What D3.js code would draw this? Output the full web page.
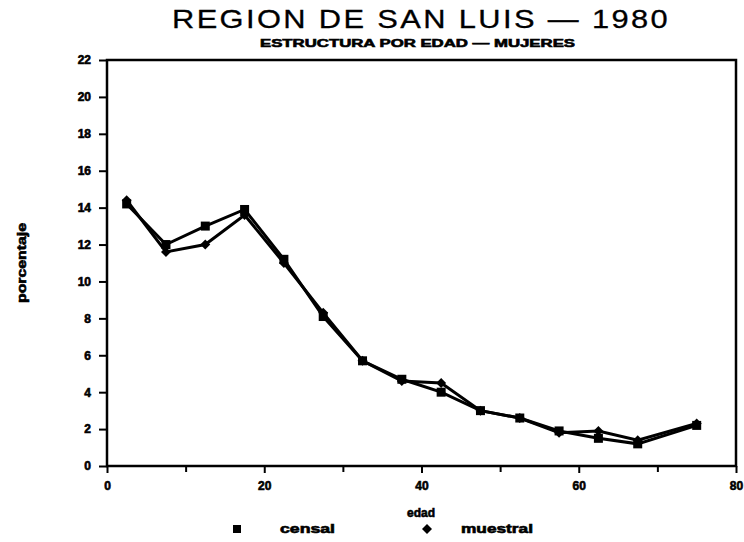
<!DOCTYPE html>
<html>
<head>
<meta charset="utf-8">
<script src="https://cdn.jsdelivr.net/npm/d3@7"></script>
<style>
  body { margin: 0; background: #fff; }
  svg { font-family: "Liberation Sans", Arial, sans-serif; }
  .tick text { font-weight: bold; font-size: 12px; stroke: #000; stroke-width: 0.6; }
  .heavy { font-weight: bold; stroke: #000; stroke-width: 0.6; }
</style>
</head>
<body>
<svg width="744" height="542"></svg>
<script>
const ages = [2.5, 7.5, 12.5, 17.5, 22.5, 27.5, 32.5, 37.5, 42.5, 47.5, 52.5, 57.5, 62.5, 67.5, 75]
const censal = [14.2, 12.0, 13.0, 13.9, 11.2, 8.1, 5.7, 4.7, 4.0, 3.0, 2.6, 1.9, 1.5, 1.2, 2.2]
const muestral = [14.4, 11.6, 12.0, 13.6, 11.0, 8.3, 5.7, 4.6, 4.5, 3.0, 2.6, 1.8, 1.9, 1.4, 2.3]
const xTicks = [0, 20, 40, 60, 80]
const xMinor = [10, 30, 50, 70]
const yTicks = [0, 2, 4, 6, 8, 10, 12, 14, 16, 18, 20, 22]

const svg = d3.select('svg')
const pL = 107, pR = 736, pT = 60, pB = 466

const x = d3.scaleLinear().domain([0, 80]).range([pL, pR])
const y = d3.scaleLinear().domain([0, 22]).range([pB, pT])

// frame
svg.append('rect')
  .attr('x', pL).attr('y', pT)
  .attr('width', pR - pL).attr('height', pB - pT)
  .attr('fill', 'none').attr('stroke', '#000').attr('stroke-width', 2.5)

const xAxis = svg.append('g')
  .attr('transform', 'translate(0,' + pB + ')')
  .call(d3.axisBottom(x).tickValues(xTicks).tickSize(7).tickPadding(8))
xAxis.select('.domain').remove()
xAxis.selectAll('line').attr('stroke-width', 2)

svg.append('g')
  .attr('transform', 'translate(0,' + pB + ')')
  .call(d3.axisBottom(x).tickValues(xMinor).tickSize(6).tickFormat(''))
  .call(g => g.select('.domain').remove())
  .selectAll('line').attr('stroke-width', 2)

const yAxis = svg.append('g')
  .attr('transform', 'translate(' + pL + ',0)')
  .call(d3.axisLeft(y).tickValues(yTicks).tickSize(8).tickPadding(8))
yAxis.select('.domain').remove()
yAxis.selectAll('line').attr('stroke-width', 2)

const line = d3.line().x((d, i) => x(ages[i])).y(d => y(d))

svg.append('path').datum(censal)
  .attr('d', line).attr('fill', 'none').attr('stroke', '#000').attr('stroke-width', 3)
svg.append('path').datum(muestral)
  .attr('d', line).attr('fill', 'none').attr('stroke', '#000').attr('stroke-width', 3)

svg.selectAll('.sq').data(censal).enter().append('rect')
  .attr('x', (d, i) => x(ages[i]) - 4.5)
  .attr('y', d => y(d) - 4.5)
  .attr('width', 9).attr('height', 9).attr('fill', '#000')

// square rotated 45deg = diamond
const diamond = d3.symbol().type(d3.symbolSquare).size(50)
svg.selectAll('.dm').data(muestral).enter().append('path')
  .attr('d', diamond)
  .attr('transform', (d, i) => 'translate(' + x(ages[i]) + ',' + y(d) + ') rotate(45)')
  .attr('fill', '#000')

// titles
svg.append('text').attr('x', 172).attr('y', 28)
  .attr('font-size', 26).attr('letter-spacing', 2)
  .attr('stroke', '#000').attr('stroke-width', 0.3)
  .attr('textLength', 498).attr('lengthAdjust', 'spacingAndGlyphs')
  .text('REGION DE SAN LUIS — 1980')
svg.append('text').attr('x', 260).attr('y', 47)
  .attr('class', 'heavy').attr('font-size', 11)
  .attr('textLength', 315).attr('lengthAdjust', 'spacingAndGlyphs')
  .text('ESTRUCTURA POR EDAD — MUJERES')

svg.append('text')
  .attr('transform', 'translate(26,263) rotate(-90)')
  .attr('class', 'heavy')
  .attr('text-anchor', 'middle').attr('font-size', 12)
  .attr('textLength', 80).attr('lengthAdjust', 'spacingAndGlyphs')
  .text('porcentaje')

svg.append('text').attr('x', 421).attr('y', 517)
  .attr('class', 'heavy')
  .attr('text-anchor', 'middle').attr('font-size', 12)
  .text('edad')

// legend
svg.append('rect').attr('x', 233).attr('y', 525).attr('width', 8).attr('height', 8).attr('fill', '#000')
svg.append('text').attr('x', 280).attr('y', 533)
  .attr('class', 'heavy').attr('font-size', 12)
  .attr('textLength', 55).attr('lengthAdjust', 'spacingAndGlyphs')
  .text('censal')
svg.append('path').attr('d', diamond)
  .attr('transform', 'translate(427,529) rotate(45)').attr('fill', '#000')
svg.append('text').attr('x', 461).attr('y', 533)
  .attr('class', 'heavy').attr('font-size', 12)
  .attr('textLength', 72).attr('lengthAdjust', 'spacingAndGlyphs')
  .text('muestral')
</script>
</body>
</html>
